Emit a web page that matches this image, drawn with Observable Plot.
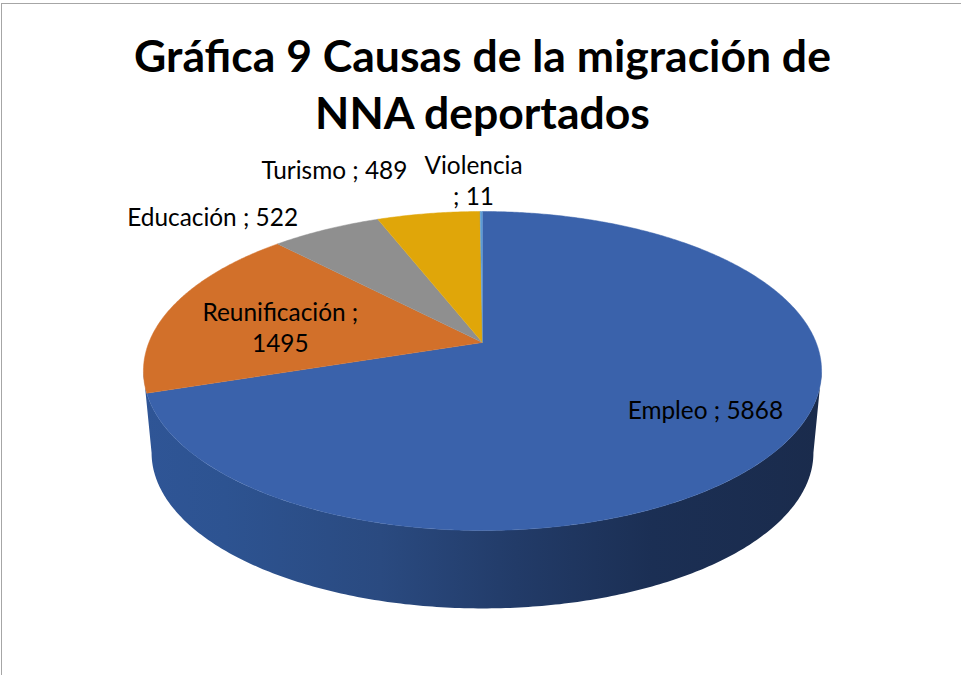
<!DOCTYPE html>
<html>
<head>
<meta charset="utf-8">
<script src="https://cdn.jsdelivr.net/npm/d3@7"></script>
<script src="https://cdn.jsdelivr.net/npm/@observablehq/plot@0.6"></script>
<style>
  html, body { margin: 0; padding: 0; background: #fff; }
  #page { position: relative; width: 961px; height: 675px; overflow: hidden; }
  #frame { position: absolute; left: 1px; top: 3px; right: -4px; bottom: -4px; border: 1px solid #a6a6a6; }
  #title { position: absolute; left: 0; top: 26px; width: 965px; text-align: center;
           font: 700 44.5px/57px Lato, sans-serif; color: #000; }
  #chart { position: absolute; left: 0; top: 140px; }
  #chart svg { display: block; }
</style>
</head>
<body>
<div id="page">
  <div id="frame"></div>
  <div id="title">Gráfica 9 Causas de la migración de<br>NNA deportados</div>
  <div id="chart"></div>
</div>
<script>
// Data
const categories = ["Empleo", "Reunificación", "Educación", "Turismo", "Violencia"];
const values = [5868, 1495, 522, 489, 11];

// Styling
const sliceColors = ["#3a62ab", "#d2702a", "#8f8f8f", "#e0a609", "#5b9bd5"];
const labelLines = ["Empleo ; 5868", "Reunificación ;\n1495", "Educación ; 522", "Turismo ; 489", "Violencia\n; 11"];
const labelX = [0.668, -0.606, -0.809, -0.444, -0.027];
const labelY = [-0.434, 0.105, 0.816, 1.126, 1.056];

// 3-D view of the pie, in pie units
const persp = 0.1787;
const wallScale = 0.976;
const wallDrop = -0.534;
const project = (t, r = 1) => {
  const u = r * Math.sin(t), v = r * Math.cos(t), w = 1 + persp * v;
  return [u / w, v / w];
};
const rad = (d) => (d * Math.PI) / 180;

const arcs = d3.pie().sort(null).startAngle(0).endAngle(2 * Math.PI)(values);

const slices = arcs.flatMap((a, i) => {
  const n = Math.max(2, Math.ceil((a.endAngle - a.startAngle) / rad(0.5)));
  const rim = d3.range(n + 1).map((k) => project(a.startAngle + ((a.endAngle - a.startAngle) * k) / n));
  return [[0, 0], ...rim].map(([x, y]) => ({x, y, name: categories[i]}));
});

const tangent = Math.acos(-persp);
const wallAngles = d3.range(0, 241).map((k) => tangent + ((2 * Math.PI - 2 * tangent) * k) / 240);
const wall = [
  ...wallAngles.map((t) => { const [x, y] = project(t); return {x, y}; }),
  ...wallAngles.slice().reverse().map((t) => {
    const [x, y] = project(t);
    return {x: x * wallScale, y: y * wallScale + wallDrop};
  })
];

const labels = categories.map((c, i) => ({x: labelX[i], y: labelY[i], text: labelLines[i]}));

const wallGradient = () => {
  const defs = d3.create("svg:defs");
  const g = defs.append("linearGradient").attr("id", "wall-shade");
  [[0, "#2f5596"], [0.12, "#2d5391"], [0.35, "#2a4a80"], [0.55, "#223b68"], [0.75, "#1b2f54"], [1, "#1a2b4c"]]
    .forEach(([o, c]) => g.append("stop").attr("offset", o).attr("stop-color", c));
  return defs.node();
};

const chart = Plot.plot({
  width: 961,
  height: 535,
  margin: 0,
  style: {background: "transparent"},
  x: {domain: [-482 / 333.6, 479 / 333.6], axis: null},
  y: {domain: [-333 / 154.4, 202 / 154.4], axis: null},
  color: {domain: categories, range: sliceColors},
  marks: [
    wallGradient,
    Plot.line(wall, {x: "x", y: "y", fill: "url(#wall-shade)", stroke: "none"}),
    Plot.line(slices, {x: "x", y: "y", z: "name", fill: "name", stroke: "name", strokeWidth: 0.5}),
    Plot.text(labels, {
      x: "x", y: "y", text: "text",
      fontFamily: "Lato, sans-serif", fontSize: 24.4, fill: "#000", lineHeight: 1.27
    })
  ]
});
document.getElementById("chart").append(chart);
</script>
</body>
</html>
